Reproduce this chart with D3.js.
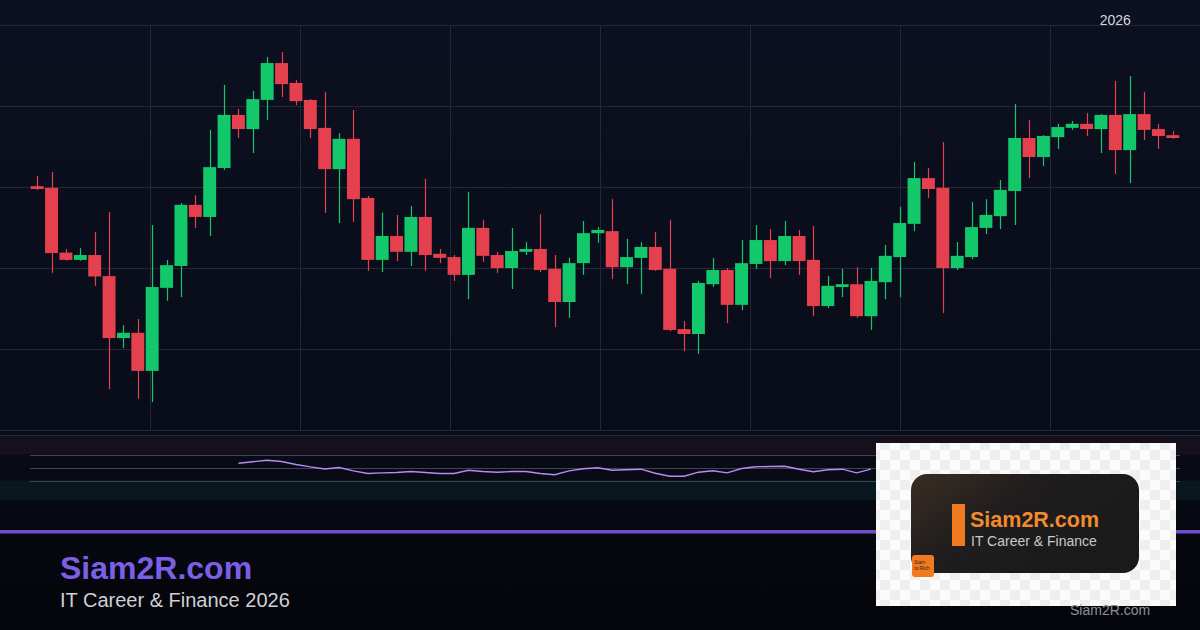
<!DOCTYPE html>
<html>
<head>
<meta charset="utf-8">
<script src="https://cdn.jsdelivr.net/npm/d3@7"></script>
<style>
  html, body { margin:0; padding:0; background:#070a14; }
  svg { display:block; font-family:"Liberation Sans", Arial, sans-serif; }
</style>
</head>
<body>
<svg id="chart" width="1200" height="630"></svg>
<script>
// candles (price units, grid line every 20)
const OPEN  = [60.2,59.8,43.8,42.0,43.2,38.0,22.7,24.0,14.6,35.1,40.5,55.6,52.6,64.7,77.8,74.3,81.5,90.6,85.7,81.5,
               74.6,64.4,71.9,57.3,42.0,47.9,44.0,52.6,43.5,42.7,38.3,49.9,43.2,40.0,44.0,44.7,39.8,31.6,41.2,48.6,
               49.1,40.2,42.5,45.2,39.8,24.9,23.7,36.0,39.5,30.9,41.0,46.9,41.7,47.9,42.0,30.6,35.3,36.0,28.1,36.5,
               42.7,50.9,62.2,59.8,40.0,42.7,49.9,52.8,59.0,72.1,67.4,72.3,74.6,75.6,74.3,77.8,69.1,78.0,74.3,72.8]
const HIGH  = [62.7,63.7,44.7,44.9,48.9,53.8,25.9,27.4,50.6,42.0,56.0,58.0,74.1,85.2,79.3,83.7,92.1,93.3,86.4,81.7,
               83.5,73.3,79.0,57.8,53.7,53.1,55.3,62.0,44.7,43.2,58.8,51.9,44.0,49.9,46.4,53.3,43.2,42.5,51.6,50.1,
               57.0,47.2,46.4,48.9,51.9,26.9,36.8,42.5,40.0,46.9,50.6,49.6,51.6,49.4,50.4,38.0,39.8,40.2,40.0,45.7,
               55.1,66.2,64.7,71.1,46.4,56.3,57.0,61.7,80.5,76.5,72.8,75.6,76.3,78.3,78.0,86.2,87.4,83.5,75.6,73.8]
const LOW   = [59.3,38.8,41.8,41.8,35.6,10.1,20.2,7.7,6.9,31.9,32.8,49.9,47.9,64.2,72.1,68.4,76.5,82.2,80.2,72.1,
               53.6,51.1,51.4,39.3,39.0,41.7,40.5,39.3,41.2,36.8,32.3,41.5,38.8,34.8,43.2,39.0,25.4,27.7,38.3,46.2,
               37.3,36.0,33.6,39.3,24.4,19.5,18.8,35.3,26.4,29.6,39.8,37.5,40.7,38.3,28.1,30.1,32.8,27.7,24.7,32.3,
               32.8,49.1,57.3,28.9,39.5,42.2,48.4,49.6,50.6,62.2,65.2,69.4,74.1,72.6,68.4,63.2,61.0,71.6,69.4,71.9]
const CLOSE = [59.5,43.7,42.0,43.2,37.9,22.7,24.0,14.6,35.3,40.7,55.6,52.6,64.9,77.8,74.3,81.7,90.6,85.4,81.2,74.3,
               64.4,71.9,57.0,42.0,47.9,44.0,52.6,43.2,42.5,38.3,49.9,43.0,40.0,44.2,44.7,39.5,31.6,41.2,48.6,49.4,
               40.2,42.7,45.2,39.5,24.7,23.7,36.3,39.5,30.9,41.2,46.9,41.7,47.9,41.7,30.6,35.6,36.0,28.1,36.8,43.0,
               51.1,62.2,59.5,40.0,43.0,50.1,53.1,59.3,72.1,67.4,72.6,74.8,75.6,74.3,77.8,69.1,78.0,74.1,72.6,72.1]

// oscillator pane, first value sits on candle 14
const RSI_START = 14
const RSI = [56.6,58.9,61.2,59.2,54.6,50.9,47.8,50.0,44.8,40.8,41.7,42.3,43.8,42.3,40.8,40.8,45.8,43.8,42.8,43.8,
             43.8,40.8,38.8,44.9,48.0,49.5,45.8,46.6,47.4,41.2,36.6,36.6,42.8,44.9,41.8,48.5,51.1,51.5,52.0,47.4,
             43.4,46.6,47.4,41.8,47.4]
const RSI_LEVELS = [70,50,30]

const PRICE_TICKS = [0,20,40,60,80,100]
const GRID_COLS = [1,2,3,4,5,6,7]
const YEAR_INDEX = 75
const YEAR_TEXT = "2026"

const BRAND = "Siam2R.com"
const TAGLINE = "IT Career & Finance 2026"
const LOGO_TAG = "IT Career & Finance"

const W = 1200, H = 630
let svg = d3.select("#chart")
let defs = svg.append("defs")

//background
let bg = defs.append("linearGradient").attr("id","bg").attr("x1",0).attr("y1",0).attr("x2",0).attr("y2",1)
bg.append("stop").attr("offset","0%").attr("stop-color","#0c1020")
bg.append("stop").attr("offset","65%").attr("stop-color","#090d19")
bg.append("stop").attr("offset","82%").attr("stop-color","#070912")
bg.append("stop").attr("offset","100%").attr("stop-color","#04050a")
svg.append("rect").attr("width",W).attr("height",H).attr("fill","url(#bg)")
svg.append("rect").attr("width",W).attr("height",25).attr("fill","#0c1021")

//scales
let x = d3.scaleBand().domain(d3.range(OPEN.length)).range([30,1180]).paddingInner(0.1).paddingOuter(0.05)
let cx = i => x(i) + x.bandwidth()/2
let y = d3.scaleLinear().domain([0,100]).range([430,25])
let gx = d3.scaleLinear().domain([0,8]).range([0,W])
let r = d3.scaleLinear().domain([0,100]).range([500,435])

//grid
let grid = svg.append("g").attr("stroke","#232839").attr("stroke-width",1)
grid.selectAll("line.h").data(PRICE_TICKS).enter().append("line")
  .attr("x1",0).attr("x2",W)
  .attr("y1",d => Math.round(y(d))+0.5).attr("y2",d => Math.round(y(d))+0.5)
grid.selectAll("line.v").data(GRID_COLS).enter().append("line")
  .attr("x1",d => gx(d)+0.5).attr("x2",d => gx(d)+0.5)
  .attr("y1",y(100)).attr("y2",y(0))

svg.append("text").attr("x",cx(YEAR_INDEX)).attr("y",25)
  .attr("text-anchor","middle").attr("font-size",14).attr("fill","#d3d7df").text(YEAR_TEXT)

//candles
let up = "#12c86b", down = "#e5404e"
let col = i => CLOSE[i] >= OPEN[i] ? up : down
let candles = svg.append("g").selectAll("g").data(d3.range(OPEN.length)).enter().append("g")
candles.append("line")
  .attr("x1",i => Math.round(cx(i))+0.5).attr("x2",i => Math.round(cx(i))+0.5)
  .attr("y1",i => y(HIGH[i])).attr("y2",i => y(LOW[i]))
  .attr("stroke",col).attr("stroke-width",1.2)
candles.append("rect")
  .attr("x",i => x(i)).attr("width",x.bandwidth())
  .attr("y",i => y(Math.max(OPEN[i],CLOSE[i])))
  .attr("height",i => Math.max(1.5, Math.abs(y(OPEN[i])-y(CLOSE[i]))))
  .attr("fill",col)

//oscillator pane
svg.append("rect").attr("x",0).attr("width",W).attr("y",r(100)).attr("height",r(70)-r(100)).attr("fill","#160f1c")
svg.append("rect").attr("x",0).attr("width",W).attr("y",r(30)).attr("height",r(0)-r(30)).attr("fill","#0a171e")
svg.append("line").attr("x1",0).attr("x2",W).attr("y1",r(100)+0.5).attr("y2",r(100)+0.5).attr("stroke","#262b3c")
svg.append("g").selectAll("line").data(RSI_LEVELS).enter().append("line")
  .attr("x1",30).attr("x2",1180)
  .attr("y1",d => Math.round(r(d))+0.5).attr("y2",d => Math.round(r(d))+0.5)
  .attr("stroke","#3e4455").attr("stroke-width",1)

let rsiLine = d3.line().x((d,i) => cx(RSI_START+i)).y(d => r(d))
svg.append("path").datum(RSI).attr("d",rsiLine)
  .attr("fill","none").attr("stroke","#b48cf2").attr("stroke-width",1.4)

//brand strip
svg.append("rect").attr("x",0).attr("width",W).attr("y",530).attr("height",3.5).attr("fill","#6c50c9")
svg.append("text").attr("x",60).attr("y",579).attr("font-size",32).attr("font-weight","bold")
  .attr("fill","#7d5ee6").text(BRAND)
svg.append("text").attr("x",60).attr("y",607).attr("font-size",20).attr("fill","#cfd1d6").text(TAGLINE)

//logo card
let chk = defs.append("pattern").attr("id","chk").attr("width",20).attr("height",20).attr("patternUnits","userSpaceOnUse")
chk.append("rect").attr("width",20).attr("height",20).attr("fill","#fbfbfb")
chk.append("rect").attr("width",10).attr("height",10).attr("fill","#efefef")
chk.append("rect").attr("x",10).attr("y",10).attr("width",10).attr("height",10).attr("fill","#efefef")
let card = defs.append("linearGradient").attr("id","card").attr("x1",0).attr("y1",0).attr("x2",1).attr("y2",0.6)
card.append("stop").attr("offset","0%").attr("stop-color","#3a2d24")
card.append("stop").attr("offset","45%").attr("stop-color","#1f1d1d")
card.append("stop").attr("offset","100%").attr("stop-color","#1a1a1a")

let logo = svg.append("g")
logo.append("rect").attr("x",876).attr("y",443).attr("width",300).attr("height",163).attr("fill","url(#chk)")
logo.append("rect").attr("x",911).attr("y",474).attr("width",228).attr("height",99).attr("rx",16).attr("fill","url(#card)")
logo.append("rect").attr("x",952).attr("y",504).attr("width",13).attr("height",42).attr("fill","#f07a20")
logo.append("text").attr("x",970).attr("y",527).attr("font-size",21.5).attr("font-weight","bold").attr("fill","#f28a2e")
  .text(BRAND)
logo.append("text").attr("x",971).attr("y",546).attr("font-size",14).attr("fill","#c9c9c9")
  .text(LOGO_TAG)
logo.append("rect").attr("x",912).attr("y",555).attr("width",22).attr("height",22).attr("rx",3).attr("fill","#f07a20")
logo.append("text").attr("x",914).attr("y",564).attr("font-size",5).attr("fill","#3a2010").text("Siam")
logo.append("text").attr("x",914).attr("y",570).attr("font-size",5).attr("fill","#3a2010").text("to Rich")

svg.append("text").attr("x",1070).attr("y",615).attr("font-size",14).attr("fill","#8b9099").text(BRAND)
</script>
</body>
</html>
